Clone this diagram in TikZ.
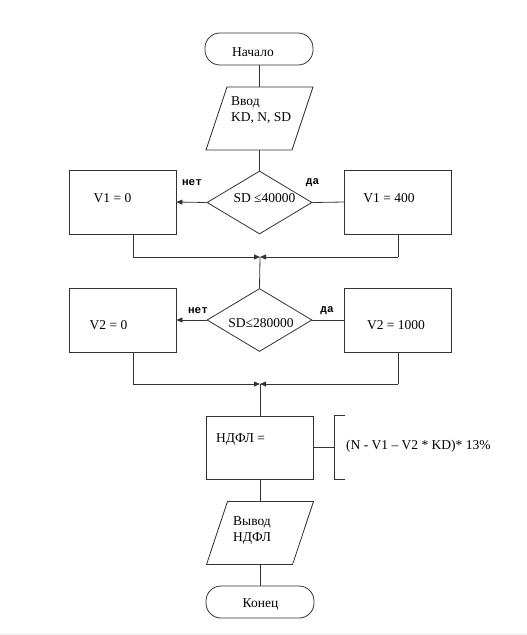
\documentclass[tikz,border=0pt]{standalone}
\usepackage{fontspec}
\setmainfont{Liberation Serif}
\newfontfamily\labfont{Liberation Mono}
\usetikzlibrary{shapes.geometric,arrows.meta}
\begin{document}
\begin{tikzpicture}[x=1pt,y=-1pt,
  line/.style={draw=black!80,line width=0.8pt},
  arr/.style={line,-{Triangle[length=6pt,width=5pt]}},
  term/.style={line,rounded corners=15pt,minimum width=108pt,minimum height=32pt,inner sep=0pt},
  procbox/.style={line,rectangle,minimum width=107pt,minimum height=64pt,inner sep=0pt},
  iobox/.style={line,rectangle,minimum width=86pt,minimum height=63pt,inner sep=0pt,xslant=0.3333,transform shape},
  decbox/.style={line,diamond,minimum width=105pt,minimum height=63pt,inner sep=0pt},
  txt/.style={font=\fontsize{13.5}{16}\selectfont,inner sep=0pt,align=left},
  lab/.style={font=\labfont\bfseries\fontsize{11}{12}\selectfont,inner sep=0pt}
]
\useasboundingbox (0,0) rectangle (527,635);
\fill[black!4] (0,633) rectangle (527,635);
% shapes
\node[term] (start) at (259,49) {};
\node[iobox] (inp) at (259.5,118.5) {};
\node[decbox] (d1) at (259.5,202.5) {};
\node[procbox] (v10) at (122.5,202) {};
\node[procbox] (v1400) at (398,202) {};
\node[decbox] (d2) at (259.5,320) {};
\node[procbox] (v20) at (122.5,320) {};
\node[procbox] (v21000) at (398,320) {};
\node[procbox,minimum height=63pt] (calc) at (260,447.5) {};
\node[iobox] (outp) at (260,533) {};
\node[term] (stop) at (260,602) {};
% coordinates
\coordinate (m1) at (260,257);
\coordinate (m2) at (260,384);
\coordinate (l1) at (133,257);
\coordinate (r1) at (398,257);
\coordinate (l2) at (133,384);
\coordinate (r2) at (398,384);
\coordinate (brk) at (334,447.5);
% texts
\node[txt] (tstart) at (253,52) {Начало};
\node[txt,anchor=west] (tinp) at (231,110.5) {Ввод\\KD, N, SD};
\node[txt] (td1) at (264.5,198) {SD ≤40000};
\node[txt] (tv10) at (112.5,198) {V1 = 0};
\node[txt] (tv1400) at (389,198) {V1 = 400};
\node[lab] (no1) at (192,183) {нет};
\node[lab] (yes1) at (312.5,183) {да};
\node[txt] (td2) at (261,323) {SD≤280000};
\node[txt] (tv20) at (108.5,325) {V2 = 0};
\node[txt] (tv21000) at (396,325) {V2 = 1000};
\node[lab] (no2) at (198,311) {нет};
\node[lab] (yes2) at (327,311) {да};
\node[txt,anchor=west] (tcalc) at (216,440) {НДФЛ =};
\node[txt,anchor=west] (tform) at (346,446) {(N - V1 – V2 * KD)* 13\%};
\node[txt,anchor=west] (toutp) at (233,530.5) {Вывод\\НДФЛ};
\node[txt] (tstop) at (260.5,604) {Конец};
% connectors
\draw[line] (start.south) -- (start.south |- inp.north);
\draw[line] (d1.north |- inp.south) -- (d1.north);
\draw[arr] (d1.west) -- (v10.east);
\draw[line] (d1.east) -- (v1400.west);
\draw[line] (v10.south -| l1) -- (l1);
\draw[arr] (l1) -- (m1);
\draw[line] (v1400.south) -- (r1);
\draw[arr] (r1) -- (m1);
\draw[line] (m1) -- (d2.north);
\draw[arr] (d2.west) -- (v20.east);
\draw[line] (d2.east) -- (v21000.west);
\draw[line] (v20.south -| l2) -- (l2);
\draw[arr] (l2) -- (m2);
\draw[line] (v21000.south) -- (r2);
\draw[arr] (r2) -- (m2);
\draw[line] (m2) -- (calc.north);
\draw[line] (calc.east) -- (brk);
\draw[line] ([xshift=11pt]brk |- calc.north) -- (brk |- calc.north) -- (brk |- calc.south) -- ([xshift=11pt]brk |- calc.south);
\draw[line] (calc.south) -- (calc.south |- outp.north);
\draw[line] (stop.north |- outp.south) -- (stop.north);
\end{tikzpicture}
\end{document}
